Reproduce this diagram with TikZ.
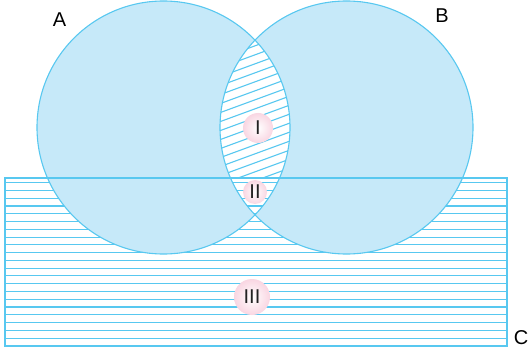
\documentclass[tikz,border=0pt]{standalone}
\usepackage{fontspec}
\setmainfont{Liberation Sans}
\definecolor{fillblue}{RGB}{198,233,249}
\definecolor{lineblue}{RGB}{88,200,240}
\definecolor{pinkc}{RGB}{249,214,226}
\definecolor{numc}{RGB}{35,35,35}
\begin{document}
\begin{tikzpicture}[x=1pt,y=-1pt,
  edge/.style={draw=lineblue,line width=1.1pt},
  hatch/.style={draw=lineblue,line width=1.1pt},
  lbl/.style={font=\fontsize{20}{22}\selectfont,text=black,inner sep=0pt},
  num/.style={circle,inner sep=0pt,font=\fontsize{20}{22}\selectfont,text=numc,inner color=white,outer color=pinkc}]
\useasboundingbox (0,0) rectangle (529,355);
\def\rr{126.5}
% rectangle C background and lines
\fill[white] (5,178) rectangle (507,346);
\begin{scope}
\clip (5,178) rectangle (507,346);
\foreach \k in {0,...,21} {
  \draw[hatch] (5,{182.7+7.77*\k}) -- (507,{182.7+7.77*\k});
}
\end{scope}
% circles
\fill[fillblue] (163.5,127.5) circle (\rr);
\fill[fillblue] (346.5,127.5) circle (\rr);
% lens white
\begin{scope}
\clip (163.5,127.5) circle (\rr);
\fill[white] (346.5,127.5) circle (\rr);
\clip (346.5,127.5) circle (\rr);
\begin{scope}
\clip (150,0) rectangle (360,178);
\foreach \k in {0,...,27} {
  \draw[hatch] (200,{30+9*\k}) -- (320,{30+9*\k-44});
}
\end{scope}
\begin{scope}
\clip (150,178) rectangle (360,260);
\foreach \k in {0,...,21} {
  \draw[hatch] (150,{182.7+7.77*\k}) -- (360,{182.7+7.77*\k});
}
\end{scope}
\end{scope}
% outlines
\draw[edge] (5,178) rectangle (507,346);
\draw[edge] (163.5,127.5) circle (\rr);
\draw[edge] (346.5,127.5) circle (\rr);
% labels
\node[lbl] (la) at (59.5,19.5) {A};
\node[lbl] (lb) at (442,16) {B};
\node[lbl] (lc) at (521,338) {C};
\node[num,minimum size=30pt] (n1) at (258,128) {I};
\node[num,minimum size=24pt] (n2) at (255,192) {II};
\node[num,minimum size=36pt] (n3) at (252,297) {III};
\end{tikzpicture}
\end{document}
